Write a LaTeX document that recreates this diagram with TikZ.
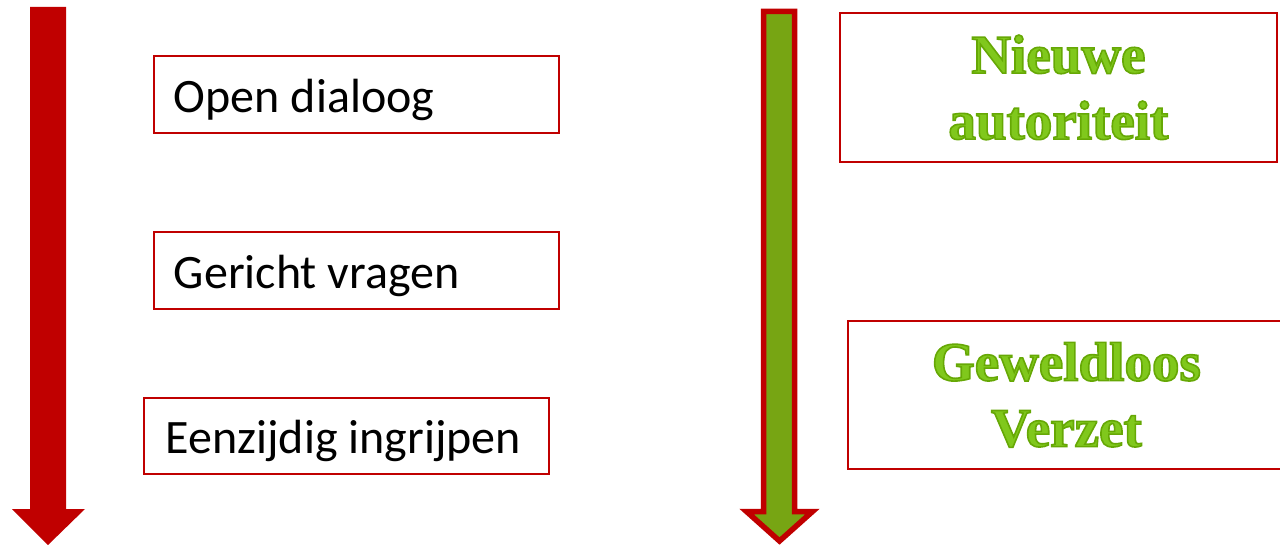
\documentclass[tikz,border=0pt]{standalone}
\usepackage{fontspec}
\setmainfont{Carlito}
\newfontfamily\greenfont{Liberation Serif}
\definecolor{dred}{RGB}{192,0,0}
\definecolor{agreen}{RGB}{119,165,19}
\definecolor{tgreen}{RGB}{128,200,28}
\newcommand{\outlinetext}[1]{\special{pdf:literal direct 2 Tr 1.6 w 0.40 0.66 0.02 RG}#1\special{pdf:literal direct 0 Tr}}
\begin{document}
\begin{tikzpicture}[x=1pt,y=-1pt,
  lbox/.style={draw=dred,line width=1.8pt,rectangle,anchor=north west,
    minimum height=77pt,minimum width=405pt,inner sep=0pt,text depth=0pt,
    font=\fontsize{48}{56}\selectfont},
  rbox/.style={draw=dred,line width=1.8pt,rectangle,anchor=north west,
    minimum height=149pt,minimum width=437pt,align=center,
    text=tgreen,font=\greenfont\bfseries\fontsize{55}{64}\selectfont}]
\useasboundingbox (0,0) rectangle (1280,545);
% left arrow
\fill[dred] (30,7) -- (66,7) -- (66,509) -- (85,509) -- (48,545) -- (12,509) -- (30,509) -- cycle;
% right arrow
\draw[draw=dred,fill=agreen,line width=5.5pt,line join=miter]
  (763.5,11.5) -- (794.5,11.5) -- (794.5,511.5) -- (812.5,511.5) -- (779.5,541) -- (746.5,511.5) -- (763.5,511.5) -- cycle;
% left boxes
\node[lbox] (b1) at (153,55) {\makebox[365pt][l]{\raisebox{-2pt}{Open dialoog}}};
\node[lbox] (b2) at (153,231) {\makebox[365pt][l]{\raisebox{-2pt}{Gericht vragen}}};
\node[lbox,minimum height=76pt] (b3) at (143,397) {\makebox[361pt][l]{\raisebox{-2pt}{Eenzijdig ingrijpen}}};
% right boxes
\node[rbox] (r1) at (839,12) {\raisebox{3pt}{\outlinetext{Nieuwe}}\\[-1pt]\outlinetext{autoriteit}};
\node[rbox,minimum height=148pt] (r2) at (847,320) {\raisebox{1pt}{\outlinetext{Geweldloos}}\\[1pt]\outlinetext{Verzet}};
\end{tikzpicture}
\end{document}
